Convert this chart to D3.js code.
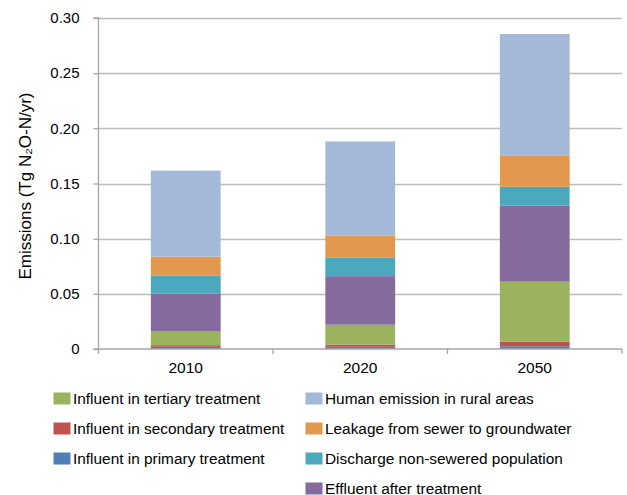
<!DOCTYPE html>
<html><head><meta charset="utf-8">
<script src="https://cdn.jsdelivr.net/npm/d3@7"></script>
<style>body{margin:0;background:#fff;}svg{display:block;font-family:"Liberation Sans",Arial,sans-serif;}</style>
</head><body><svg id="c" width="627" height="495"></svg>
<script>
const years = ["2010", "2020", "2050"];
const seriesNames = [
  "Influent in primary treatment",
  "Influent in secondary treatment",
  "Influent in tertiary treatment",
  "Effluent after treatment",
  "Discharge non-sewered population",
  "Leakage from sewer to groundwater",
  "Human emission in rural areas"
];
const primary   = [0.002, 0.002, 0.0025];
const secondary = [0.0015, 0.002, 0.004];
const tertiary  = [0.0128, 0.018, 0.0545];
const effluent  = [0.034, 0.044, 0.069];
const discharge = [0.0164, 0.0166, 0.017];
const leakage   = [0.017, 0.020, 0.028];
const rural     = [0.078, 0.0855, 0.1105];
const yTicks = [0, 0.05, 0.10, 0.15, 0.20, 0.25, 0.30];
const yTickLabels = ["0", "0.05", "0.10", "0.15", "0.20", "0.25", "0.30"];
const colors = ["#4F7FB8", "#C0524E", "#9BB35D", "#846A9D", "#4CA8BC", "#E3984F", "#A4B9D8"];
// legend layout order (column1 then column2)
const legendCol1 = [2, 1, 0];
const legendCol2 = [6, 5, 4, 3];

(function () {
const values = [primary, secondary, tertiary, effluent, discharge, leakage, rural];
const rows = years.map((yr, i) => {
  const o = {year: yr};
  seriesNames.forEach((s, k) => o[s] = values[k][i]);
  return o;
});
const stacked = d3.stack().keys(seriesNames)(rows);

const svg = d3.select("#c");
const mLeft = 98.5, mRight = 622, mTop = 18, mBottom = 349;
const x = d3.scaleBand().domain(years).range([mLeft, mRight]).paddingInner(0.6).paddingOuter(0.3);
const y = d3.scaleLinear().domain([0, 0.30]).range([mBottom, mTop]);

// gridlines
svg.append("g").selectAll("line").data(yTicks.slice(1)).join("line")
  .attr("x1", mLeft).attr("x2", mRight)
  .attr("y1", d => Math.round(y(d)) + 0.5).attr("y2", d => Math.round(y(d)) + 0.5)
  .attr("stroke", "#BDBDBD").attr("stroke-width", 1.3);

// bars
svg.append("g").selectAll("g").data(stacked).join("g")
  .attr("fill", (d, i) => colors[i])
  .selectAll("rect").data(d => d).join("rect")
  .attr("x", d => x(d.data.year))
  .attr("width", x.bandwidth())
  .attr("y", d => y(d[1]))
  .attr("height", d => y(d[0]) - y(d[1]));

// y axis
const yAxis = d3.axisLeft(y).tickValues(yTicks).tickFormat((d, i) => yTickLabels[i]).tickSize(5).tickPadding(14);
const gy = svg.append("g").attr("transform", `translate(${mLeft},0)`).call(yAxis);
gy.select(".domain").attr("stroke", "#A6A6A6").attr("stroke-width", 1.3).attr("d", `M-5,${mTop}H0V${mBottom}`);
gy.selectAll(".tick line").attr("stroke", "#A6A6A6").attr("stroke-width", 1.3);
gy.selectAll(".tick text").attr("font-size", 15).attr("fill", "#000").attr("font-family", "Liberation Sans, Arial, sans-serif");

// x axis
svg.append("line").attr("x1", mLeft - 5).attr("x2", mRight).attr("y1", mBottom).attr("y2", mBottom)
  .attr("stroke", "#A6A6A6").attr("stroke-width", 1.3);
const step = x.step();
const catEdges = years.map(d => x(d) - step * 0.3).concat([mRight]);
svg.append("g").selectAll("line").data(catEdges).join("line")
  .attr("x1", d => d).attr("x2", d => d)
  .attr("y1", mBottom).attr("y2", mBottom + 5)
  .attr("stroke", "#A6A6A6").attr("stroke-width", 1.3);
svg.append("g").selectAll("text").data(years).join("text")
  .attr("x", d => x(d) + x.bandwidth() / 2).attr("y", 373)
  .attr("text-anchor", "middle").attr("font-size", 15.5).attr("fill", "#000")
  .text(d => d);

// y title
svg.append("text").attr("transform", "translate(31,186) rotate(-90)")
  .attr("text-anchor", "middle").attr("font-size", 17).attr("fill", "#000")
  .text("Emissions (Tg N\u2082O-N/yr)");

// legend
function legendCol(idx, sx, tx) {
  const g = svg.append("g");
  idx.forEach((k, r) => {
    const cy = 398.5 + r * 30;
    g.append("rect").attr("x", sx).attr("y", cy - 6).attr("width", 17).attr("height", 12).attr("fill", colors[k]);
    g.append("text").attr("x", tx).attr("y", cy + 5.5).attr("font-size", 15.4).attr("fill", "#000").text(seriesNames[k]);
  });
}
legendCol(legendCol1, 53.5, 73);
legendCol(legendCol2, 305.5, 325);
})();
</script></body></html>
